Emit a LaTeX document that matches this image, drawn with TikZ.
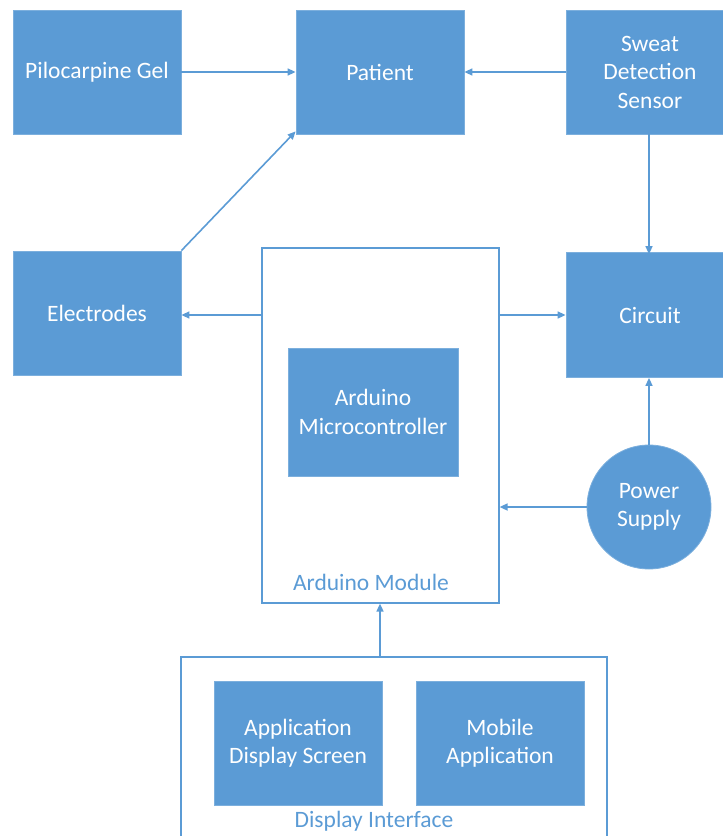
\documentclass[tikz,border=0pt]{standalone}
\usepackage{fontspec}
\setmainfont{Carlito}
\usetikzlibrary{arrows.meta}
\definecolor{mblue}{HTML}{5B9BD5}
\begin{document}
\begin{tikzpicture}[x=1pt,y=-1pt,
  blk/.style={fill=mblue,draw=mblue!80!white,line width=0.8pt,text=white,align=center,font=\fontsize{23.5}{28.5}\selectfont,inner sep=0pt},
  frame/.style={draw=mblue,line width=1.2pt},
  lbl/.style={text=mblue,font=\fontsize{23.5}{28.5}\selectfont,inner sep=0pt},
  arr/.style={draw=mblue,line width=1.6pt,-{Triangle[length=8pt,width=7pt]}}]
\useasboundingbox (0,0) rectangle (723,836);
\begin{scope}
\clip (0,0) rectangle (723,836);
\node[blk,minimum width=168pt,minimum height=124pt] (pilo) at (97,72) {Pilocarpine Gel};
\node[blk,minimum width=168pt,minimum height=124pt] (pat) at (380,72) {Patient};
\node[blk,minimum width=168pt,minimum height=124pt] (sweat) at (650,72) {Sweat\\Detection\\Sensor};
\node[blk,minimum width=168pt,minimum height=124pt] (elec) at (97,313) {Electrodes};
\node[blk,minimum width=168pt,minimum height=125pt] (circ) at (650,315) {Circuit};
\node[frame,minimum width=237pt,minimum height=355pt,inner sep=0pt] (ard) at (380.5,425.5) {};
\node[blk,minimum width=170pt,minimum height=128pt] (mcu) at (373,412) {Arduino\\Microcontroller};
\node[lbl] (ardl) at (371,582) {Arduino Module};
\node[blk,circle,minimum size=124pt] (pow) at (649,507) {Power\\Supply};
\node[frame,minimum width=426pt,minimum height=182pt,inner sep=0pt] (disp) at (394,748) {};
\node[blk,minimum width=168pt,minimum height=124pt] (app) at (298,743) {Application\\Display Screen};
\node[blk,minimum width=168pt,minimum height=124pt] (mob) at (500,743) {Mobile\\Application};
\node[lbl] (displ) at (374,821) {Display Interface};
\end{scope}
\draw[arr] (pilo.east) -- (pat.west);
\draw[arr] (sweat.west) -- (pat.east);
\draw[arr] (elec.north east) -- ([yshift=3pt]pat.south west);
\draw[arr] ([xshift=-1pt]sweat.south) -- ([xshift=-1pt,yshift=-2pt]circ.north);
\draw[arr] ([yshift=-2pt]elec.east -| ard.west) -- ([yshift=-2pt]elec.east);
\draw[arr] (circ.west -| ard.east) -- (circ.west);
\draw[arr] (pow.north) -- (pow.north |- circ.south);
\draw[arr] (pow.west) -- (pow.west -| ard.east);
\draw[arr] (disp.north -| 380,0) -- (ard.south -| 380,0);
\end{tikzpicture}
\end{document}
